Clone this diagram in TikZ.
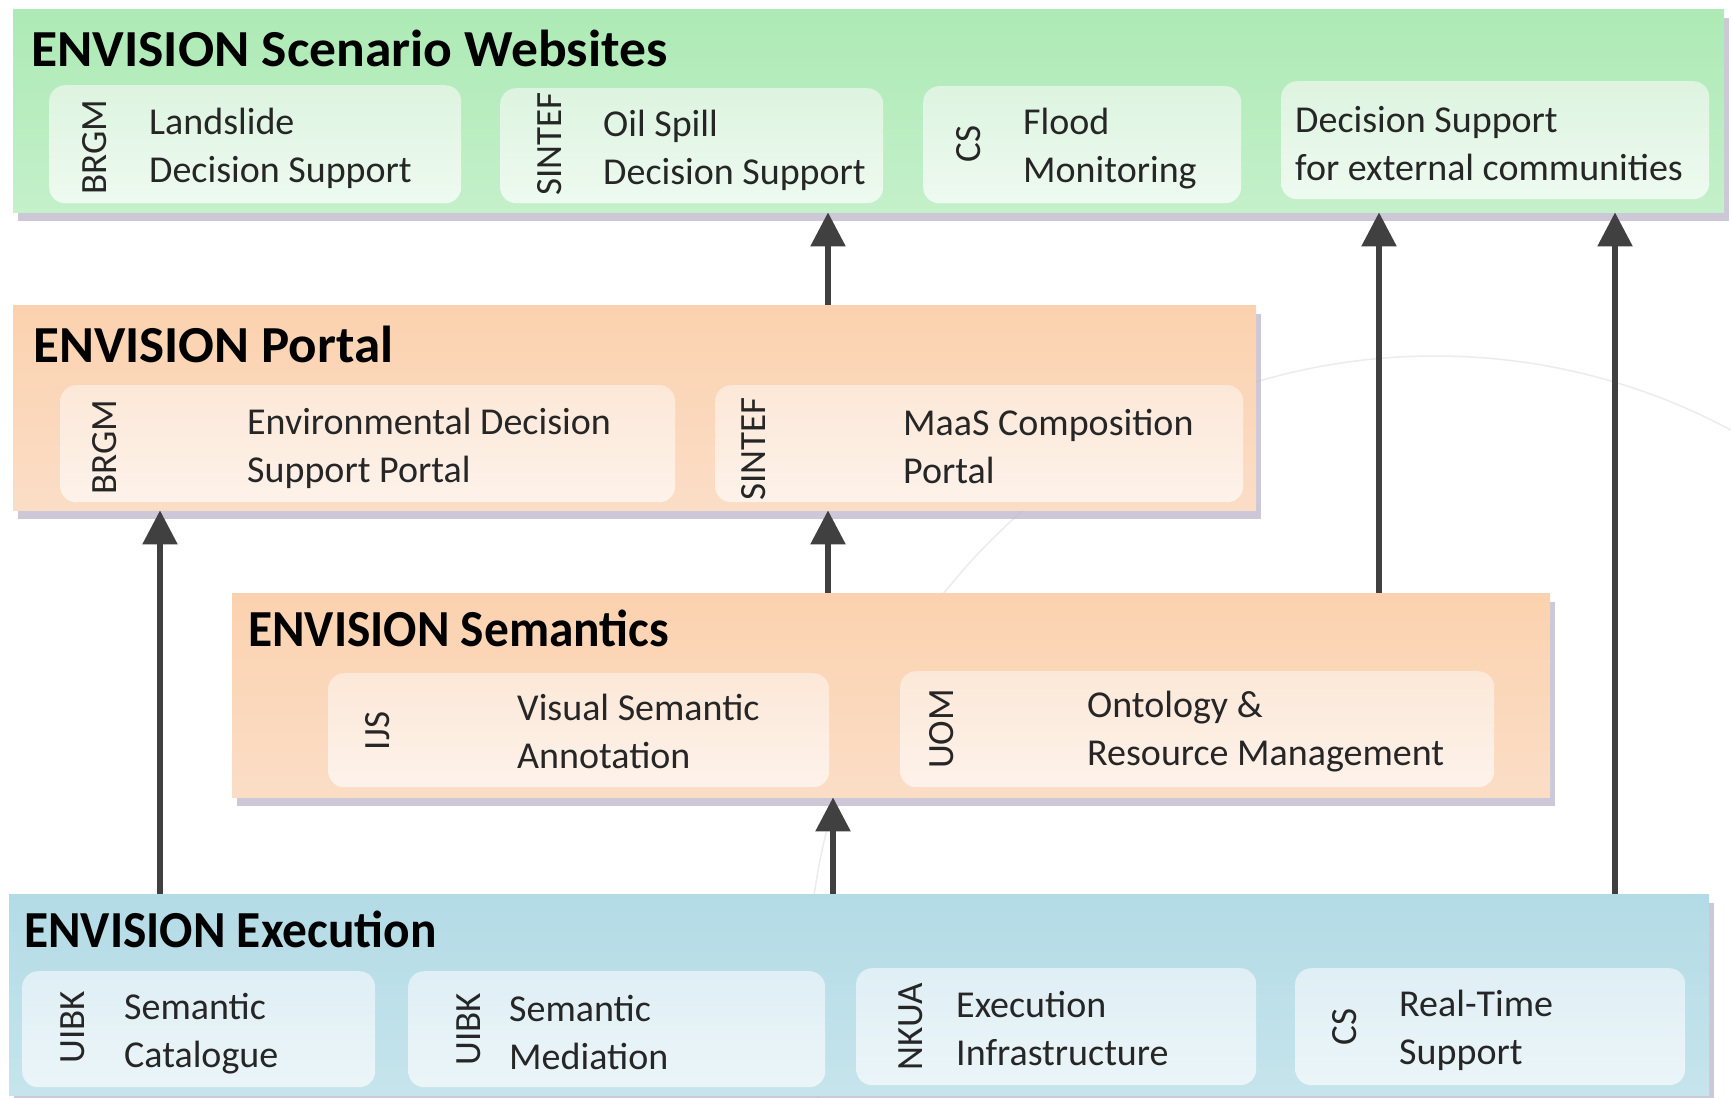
\documentclass[tikz,border=0pt]{standalone}
\usepackage{fontspec}
\setmainfont{Carlito}
\usetikzlibrary{shadows,arrows.meta}
\definecolor{webtop}{HTML}{ADEAB5}
\definecolor{webbot}{HTML}{C4F0CA}
\definecolor{webin1}{HTML}{DDF4E0}
\definecolor{webin2}{HTML}{EEFAF0}
\definecolor{ortop}{HTML}{FBD2AF}
\definecolor{orbot}{HTML}{FBDDC6}
\definecolor{orin1}{HTML}{FCE8D8}
\definecolor{orin2}{HTML}{FDF2EA}
\definecolor{bltop}{HTML}{B3DBE6}
\definecolor{blbot}{HTML}{C6E4EC}
\definecolor{blin1}{HTML}{DFEFF5}
\definecolor{blin2}{HTML}{EBF5F8}
\definecolor{shadowc}{HTML}{BDB6CC}
\definecolor{arrowc}{HTML}{404040}
\definecolor{txt}{HTML}{262626}
\definecolor{deco}{HTML}{ECECEC}
\begin{document}
\begin{tikzpicture}[x=1pt,y=-1pt,
  outer/.style={rectangle, inner sep=0pt, anchor=north west,
    drop shadow={shadow xshift=5pt, shadow yshift=-9pt, fill=shadowc, opacity=.75}},
  inbox/.style={rectangle, rounded corners=16pt, inner sep=0pt, anchor=north west},
  ttl/.style={anchor=west, font=\fontsize{52}{60}\selectfont\bfseries, inner sep=0pt, text=black},
  org/.style={rotate=90, font=\fontsize{37}{40}\selectfont, inner sep=0pt, text=txt},
  lbl/.style={anchor=west, align=left, font=\fontsize{38}{48}\selectfont, inner sep=0pt, text=txt},
  arr/.style={line width=5.5pt, draw=arrowc, -{Triangle[length=34pt,width=34pt]}}]
\useasboundingbox (0,0) rectangle (1731,1097);
\fill[white] (0,0) rectangle (1731,1097);
\draw[deco, line width=1.5pt] (1435,983) circle[radius=627];

% outer layers
\node[outer, top color=webtop, bottom color=webbot, minimum width=1711pt, minimum height=203pt] (web) at (13,9) {};
\node[outer, top color=ortop, bottom color=orbot, minimum width=1243pt, minimum height=205pt] (portal) at (13,305) {};
\node[outer, top color=ortop, bottom color=orbot, minimum width=1318pt, minimum height=204pt] (sem) at (232,593) {};
\node[outer, top color=bltop, bottom color=blbot, minimum width=1700pt, minimum height=201pt] (exec) at (9,894) {};

\node[ttl, xscale=1.03] (webt) at (31,48) {ENVISION Scenario Websites};
\node[ttl, xscale=1.02] (portalt) at (33,344) {ENVISION Portal};
\node[ttl, xscale=0.95] (semt) at (248,628) {ENVISION Semantics};
\node[ttl, xscale=0.95] (exect) at (24,929) {ENVISION Execution};

% websites
\node[inbox, top color=webin1, bottom color=webin2, minimum width=412pt, minimum height=118pt] (w1) at (49,85) {};
\node[inbox, top color=webin1, bottom color=webin2, minimum width=383pt, minimum height=115pt] (w2) at (500,88) {};
\node[inbox, top color=webin1, bottom color=webin2, minimum width=318pt, minimum height=117pt] (w3) at (923,86) {};
\node[inbox, top color=webin1, bottom color=webin2, minimum width=428pt, minimum height=118pt] (w4) at (1281,81) {};
\node[org] (w1o) at (95,147) {BRGM};
\node[lbl] (w1l) at (149,148) {Landslide\\Decision Support};
\node[org] (w2o) at (550,144) {SINTEF};
\node[lbl] (w2l) at (603,150) {Oil Spill\\Decision Support};
\node[org] (w3o) at (969,144) {CS};
\node[lbl] (w3l) at (1023,149) {Flood\\Monitoring};
\node[lbl] (w4l) at (1295,144) {Decision Support\\for external communities};

% portal
\node[inbox, top color=orin1, bottom color=orin2, minimum width=615pt, minimum height=117pt] (p1) at (60,385) {};
\node[inbox, top color=orin1, bottom color=orin2, minimum width=528pt, minimum height=117pt] (p2) at (715,385) {};
\node[org] (p1o) at (105,447) {BRGM};
\node[lbl] (p1l) at (247,448) {Environmental Decision\\Support Portal};
\node[org] (p2o) at (754,449) {SINTEF};
\node[lbl] (p2l) at (903,446) {MaaS Composition\\Portal};

% semantics
\node[inbox, top color=orin1, bottom color=orin2, minimum width=501pt, minimum height=114pt] (s1) at (328,673) {};
\node[inbox, top color=orin1, bottom color=orin2, minimum width=594pt, minimum height=116pt] (s2) at (900,671) {};
\node[org] (s1o) at (378,731) {IJS};
\node[lbl] (s1l) at (517,731) {Visual Semantic\\Annotation};
\node[org] (s2o) at (942,729) {UOM};
\node[lbl] (s2l) at (1087,732) {Ontology \&\\Resource Management};

% execution
\node[inbox, top color=blin1, bottom color=blin2, minimum width=353pt, minimum height=116pt] (e1) at (22,971) {};
\node[inbox, top color=blin1, bottom color=blin2, minimum width=417pt, minimum height=116pt] (e2) at (408,971) {};
\node[inbox, top color=blin1, bottom color=blin2, minimum width=400pt, minimum height=117pt] (e3) at (856,968) {};
\node[inbox, top color=blin1, bottom color=blin2, minimum width=390pt, minimum height=117pt] (e4) at (1295,968) {};
\node[org] (e1o) at (73,1027) {UIBK};
\node[lbl] (e1l) at (124,1034) {Semantic\\Catalogue};
\node[org] (e2o) at (469,1029) {UIBK};
\node[lbl] (e2l) at (509,1032) {Semantic\\Mediation};
\node[org] (e3o) at (911,1027) {NKUA};
\node[lbl] (e3l) at (956,1028) {Execution\\Infrastructure};
\node[org] (e4o) at (1345,1027) {CS};
\node[lbl] (e4l) at (1399,1030) {Real-Time\\Support};

% arrows
\coordinate (ax1) at (828,0);
\coordinate (ax2) at (1379,0);
\coordinate (ax3) at (1615,0);
\coordinate (ax4) at (160,0);
\coordinate (ax5) at (833,0);
\draw[arr] (portal.north -| ax1) -- (web.south -| ax1);
\draw[arr] (sem.north -| ax2) -- (web.south -| ax2);
\draw[arr] (exec.north -| ax3) -- (web.south -| ax3);
\draw[arr] (exec.north -| ax4) -- (portal.south -| ax4);
\draw[arr] (sem.north -| ax1) -- (portal.south -| ax1);
\draw[arr] (exec.north -| ax5) -- (sem.south -| ax5);
\end{tikzpicture}
\end{document}
